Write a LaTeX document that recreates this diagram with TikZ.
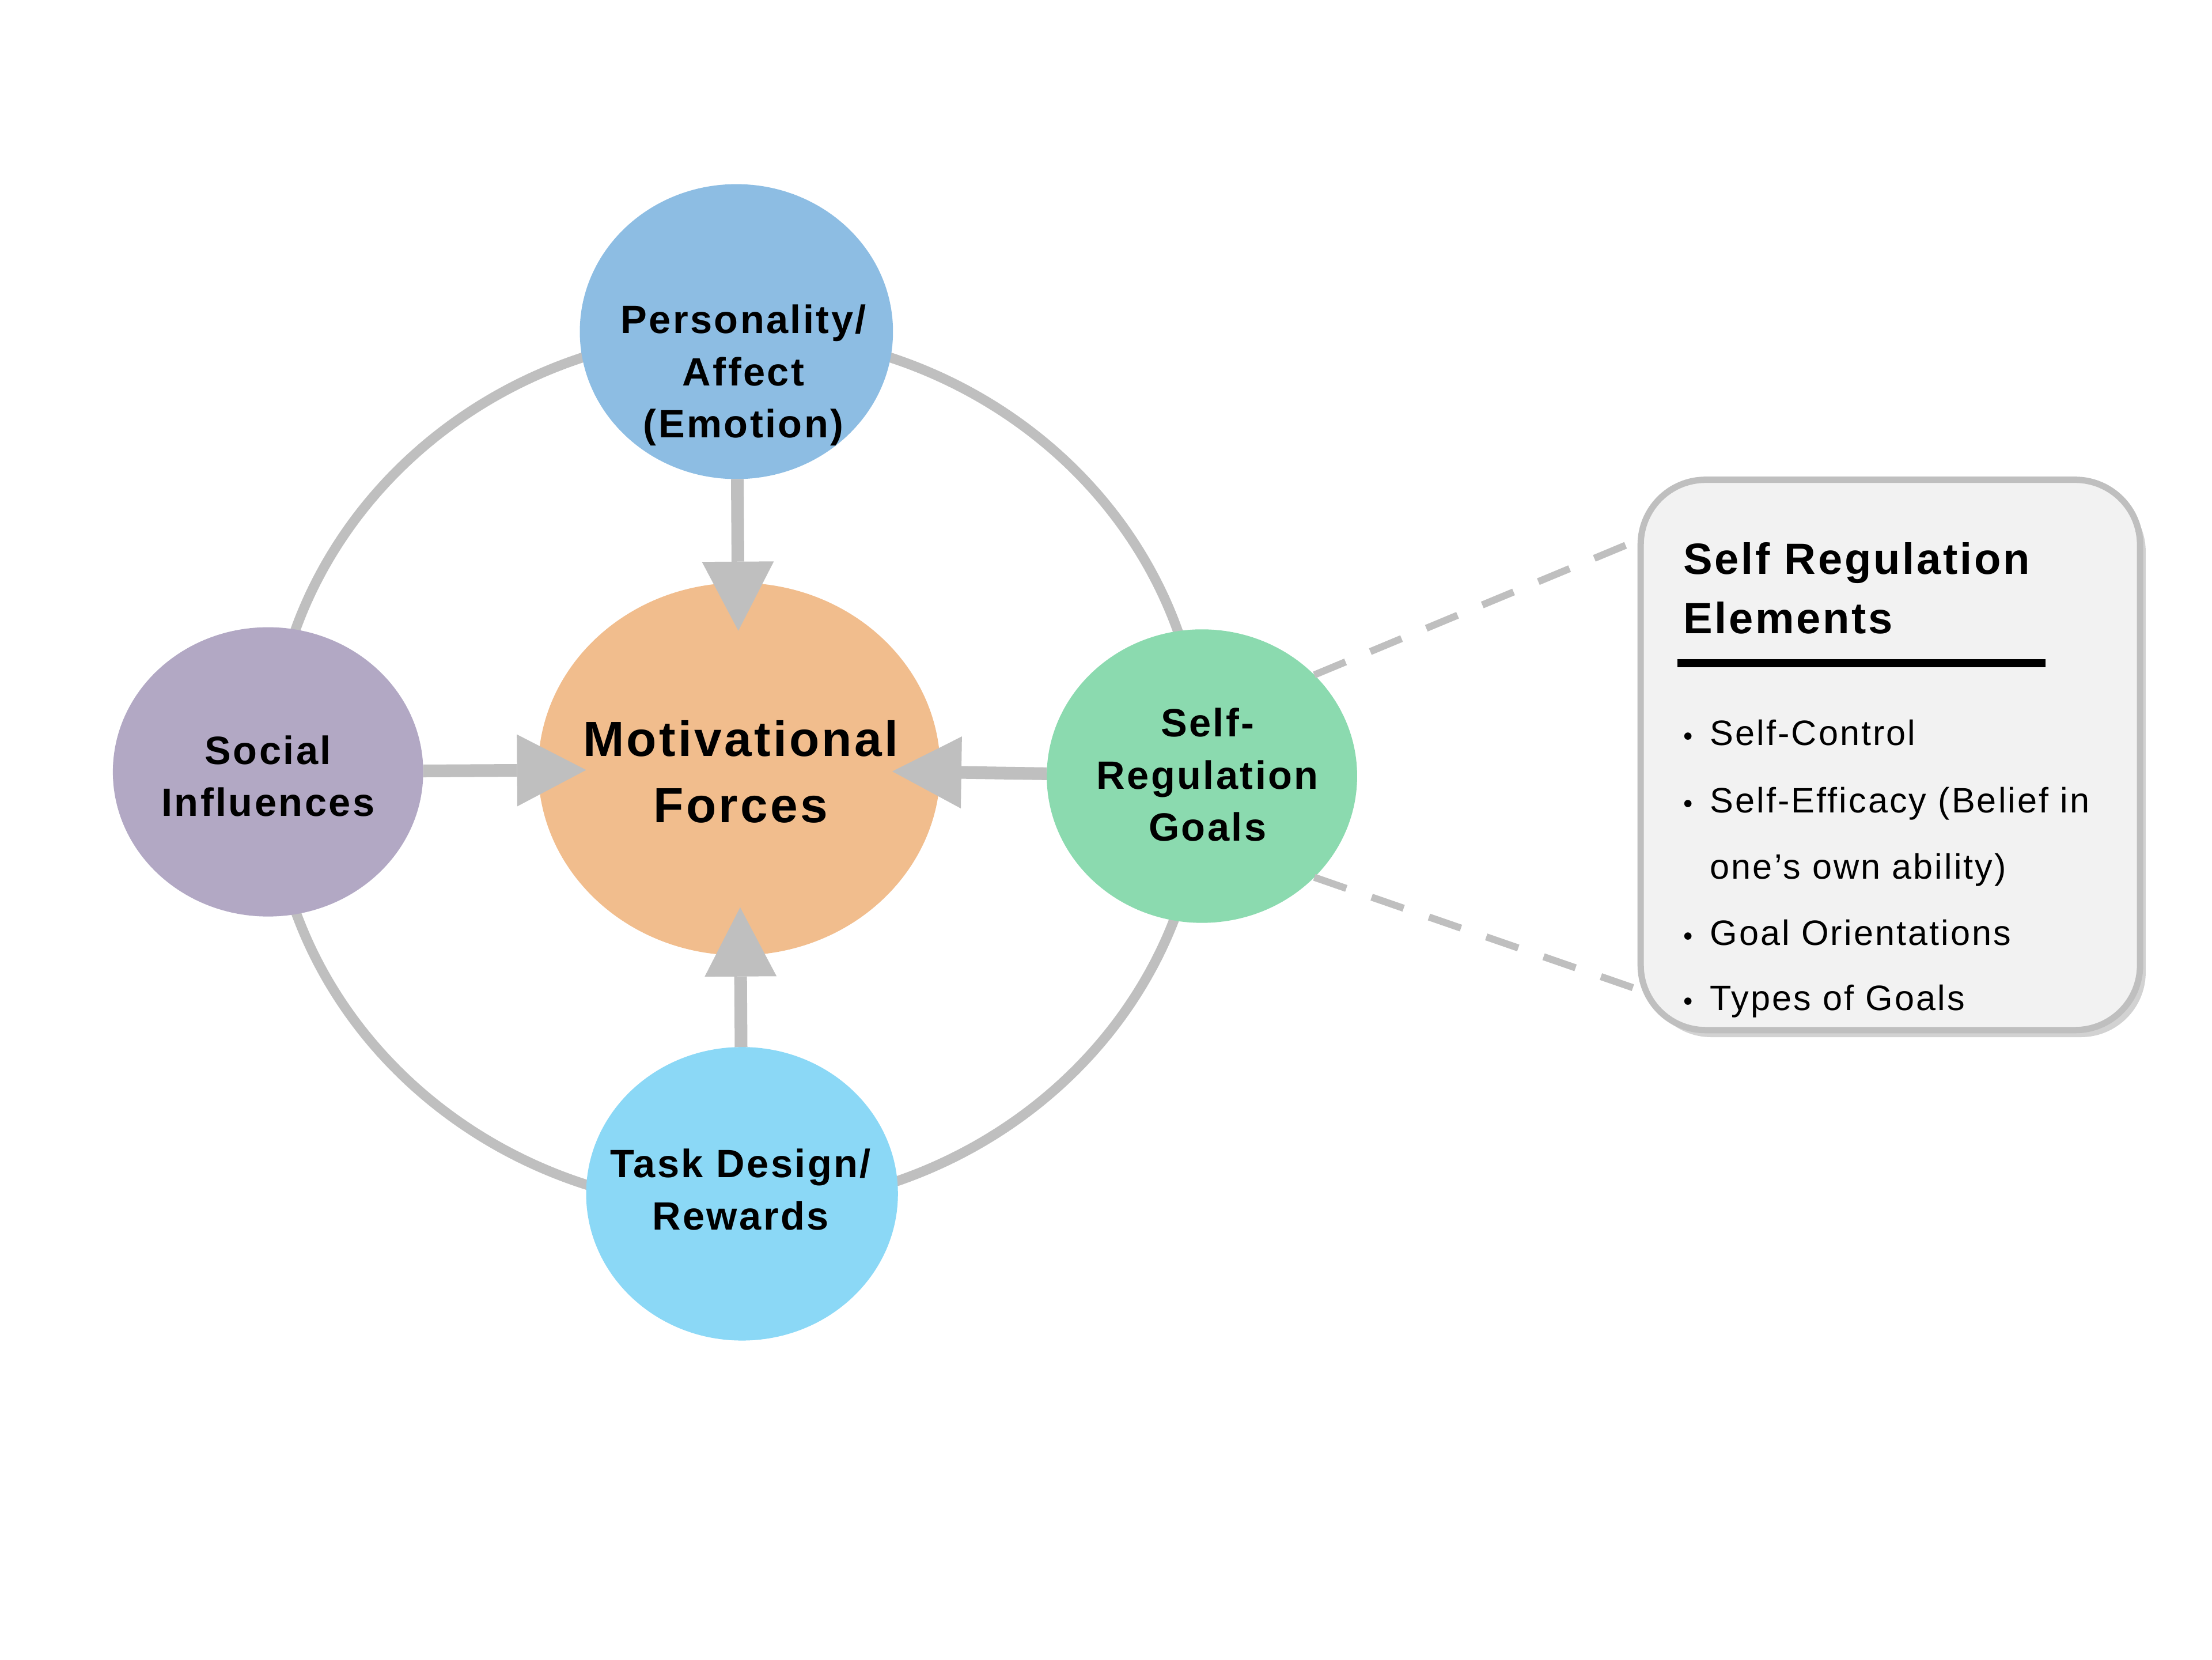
\documentclass[tikz,border=0pt]{standalone}
\usepackage{fontspec}
\setmainfont{Liberation Sans}
\newfontfamily\lsfont[LetterSpace=5]{Liberation Sans}
\usetikzlibrary{shapes.geometric,arrows.meta,shadows}
\definecolor{pacol}{RGB}{141,189,227}
\definecolor{mfcol}{RGB}{241,189,141}
\definecolor{sicol}{RGB}{178,168,196}
\definecolor{srcol}{RGB}{139,218,175}
\definecolor{trcol}{RGB}{139,216,246}
\definecolor{ringgray}{RGB}{191,191,191}
\definecolor{boxfill}{RGB}{242,242,242}
\begin{document}
\begin{tikzpicture}[x=1pt,y=-1pt,
  bub/.style={ellipse, inner sep=0pt, outer sep=0pt},
  ctext/.style={align=center, inner sep=0pt, text=black,
    font=\lsfont\bfseries\fontsize{28}{37}\selectfont},
  ring/.style={draw=ringgray, line width=7pt},
  arr/.style={draw=ringgray, line width=9pt,
    -{Triangle[length=49pt,width=51pt,line width=0pt]}, shorten >=-34pt},
  callline/.style={draw=ringgray, line width=5pt, dash pattern=on 24pt off 19pt},
  boxtitle/.style={anchor=base west, inner sep=0pt,
    font=\lsfont\bfseries\fontsize{31}{40}\selectfont},
  boxitem/.style={anchor=base west, inner sep=0pt,
    font=\lsfont\fontsize{25}{30}\selectfont},
  bul/.style={anchor=base west, inner sep=0pt,
    font=\fontsize{19}{22}\selectfont}
]
\fill[white] (0,0) rectangle (1568,1176);
\useasboundingbox (0,0) rectangle (1568,1176);

% ring behind the circles
\coordinate (rc) at (522,546);
\draw[ring] (rc) ellipse [x radius=330, y radius=310];

% circles
\node[bub, fill=mfcol, minimum width=285pt, minimum height=264pt] (mf) at (524,545) {};
\node[bub, fill=pacol, minimum width=222pt, minimum height=209pt] (pa) at (522,235) {};
\node[bub, fill=sicol, minimum width=220pt, minimum height=205pt] (si) at (190,547) {};
\node[bub, fill=srcol, minimum width=220pt, minimum height=208pt] (sr) at (852,550) {};
\node[bub, fill=trcol, minimum width=221pt, minimum height=208pt] (tr) at (526,846) {};

% arrows into the centre
\draw[arr] (pa) -- (mf);
\draw[arr] (tr) -- (mf);
\draw[arr] (si) -- (mf);
\draw[arr] (sr) -- (mf);

% callout lines
\coordinate (bxa) at (1175,377);
\coordinate (bxb) at (1175,706);
\draw[callline] (sr.42) -- (bxa);
\draw[callline] (sr.-42) -- (bxb);

% callout box
\node[draw=ringgray, line width=4.5pt, fill=boxfill, rounded corners=46pt,
      minimum width=354pt, minimum height=390pt, inner sep=0pt,
      drop shadow={shadow xshift=4pt, shadow yshift=-5pt, opacity=0.35}]
      (box) at (1340,535) {};

% circle texts
\node[ctext, font=\lsfont\bfseries\fontsize{35}{47}\selectfont] (mft) at (525,547) {Motivational\\Forces};
\node[ctext] (pat) at (527,266) {Personality/\\Affect\\(Emotion)};
\node[ctext] (sit) at (190,550) {Social\\Influences};
\node[ctext] (srt) at (856,549) {Self-\\Regulation\\Goals};
\node[ctext] (trt) at (525,843) {Task Design/\\Rewards};

% box texts
\node[boxtitle] (bt1) at (1193,407) {Self Regulation};
\node[boxtitle] (bt2) at (1193,449) {Elements};
\draw[line width=5.8pt] (1189,470) -- (1450,470);

\node[bul] (u1) at (1193,528) {•};
\node[boxitem] (i1) at (1212,528) {Self-Control};
\node[bul] (u2) at (1193,576) {•};
\node[boxitem] (i2) at (1212,576) {Self-Efficacy (Belief in};
\node[boxitem] (i2b) at (1212,623) {one’s own ability)};
\node[bul] (u3) at (1193,670) {•};
\node[boxitem] (i3) at (1212,670) {Goal Orientations};
\node[bul] (u4) at (1193,716) {•};
\node[boxitem] (i4) at (1212,716) {Types of Goals};
\end{tikzpicture}
\end{document}
